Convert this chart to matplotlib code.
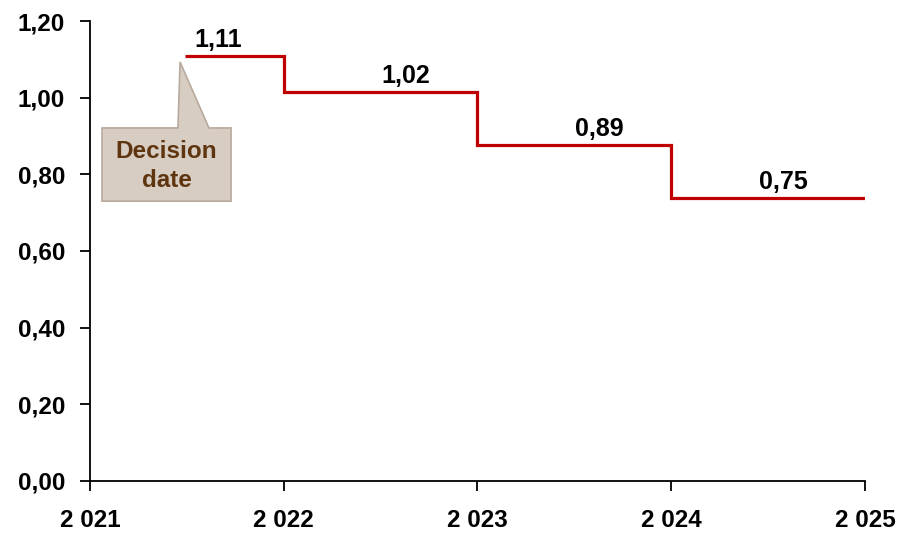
import matplotlib.pyplot as plt
from matplotlib.patches import Polygon
from matplotlib.font_manager import FontProperties

# ── Data ────────────────────────────────────────────
edges = [2021.49, 2022, 2023, 2024, 2025]
values = [1.109, 1.015, 0.877, 0.738]
value_labels = ["1,11", "1,02", "0,89", "0,75"]
label_x = [2021.66, 2022.63, 2023.63, 2024.58]
x_ticks = [2021, 2022, 2023, 2024, 2025]
x_tick_labels = ["2 021", "2 022", "2 023", "2 024", "2 025"]
y_ticks = [0.0, 0.2, 0.4, 0.6, 0.8, 1.0, 1.2]
y_tick_labels = ["0,00", "0,20", "0,40", "0,60", "0,80", "1,00", "1,20"]

RED = "#c00000"
LABEL_FONT = "Liberation Sans"
tick_fp = FontProperties(family="Liberation Sans", weight="bold", size=17.5)

fig = plt.figure(figsize=(9, 5.33), dpi=100)
ax = fig.add_axes([0.1, 0.0976, 0.861, 0.863])

ax.stairs(values, edges, baseline=None, color=RED, linewidth=2.3)

for x, v, txt in zip(label_x, values, value_labels):
    ax.annotate(txt, (x, v), xytext=(0, 3), textcoords="offset points",
                ha="center", va="bottom", fontsize=18, fontweight="bold",
                family=LABEL_FONT, color="black")

# callout "Decision date"
callout = Polygon([(2021.062, 0.730), (2021.062, 0.921), (2021.454, 0.921),
                   (2021.465, 1.093), (2021.614, 0.921), (2021.728, 0.921),
                   (2021.728, 0.730)], closed=True,
                  facecolor="#d7cdc3", edgecolor="#b8aa9c", linewidth=1.2,
                  zorder=3)
ax.add_patch(callout)
ax.text(2021.395, 0.822, "Decision\ndate", ha="center", va="center",
        fontsize=17.5, fontweight="bold", family=LABEL_FONT, color="#5f3510",
        linespacing=1.3, zorder=4)

ax.set_xlim(2021, 2025)
ax.set_ylim(0, 1.2)
ax.set_xticks(x_ticks)
ax.set_xticklabels(x_tick_labels, fontproperties=tick_fp)
ax.set_yticks(y_ticks)
ax.set_yticklabels(y_tick_labels, fontproperties=tick_fp)

ax.spines["top"].set_visible(False)
ax.spines["right"].set_visible(False)
ax.spines["left"].set_linewidth(1.3)
ax.spines["bottom"].set_linewidth(1.3)
ax.tick_params(axis="both", direction="out", length=7, width=1.3)
ax.tick_params(axis="y", pad=11)
ax.tick_params(axis="x", pad=13)

fig.savefig("out.png", dpi=100)
